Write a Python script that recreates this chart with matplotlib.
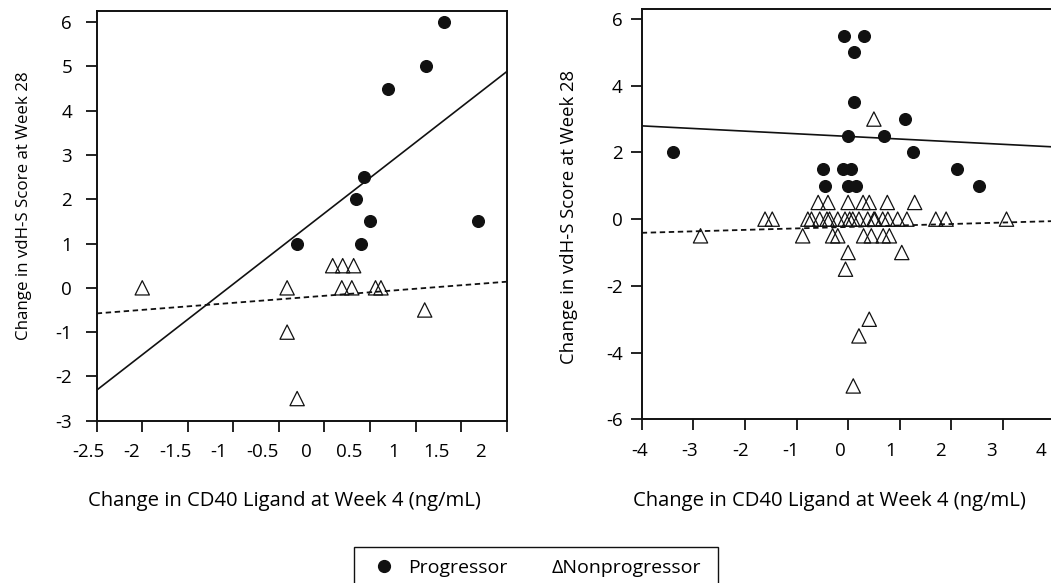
import matplotlib
matplotlib.use("Agg")
import matplotlib.pyplot as plt
import numpy as np
from matplotlib.lines import Line2D
from matplotlib.patches import Rectangle
from matplotlib.transforms import ScaledTranslation

plt.rcParams['font.family'] = ['Open Sans', 'DejaVu Sans']
plt.rcParams['font.size'] = 13.5
plt.rcParams['axes.unicode_minus'] = False

# left panel: week 4 change vs week 28 vdH-S change
left_prog_x = [1.31, 1.11, 0.70, 0.43, 0.35, 0.50, 0.40, -0.30, 1.69]
left_prog_y = [6, 5, 4.5, 2.5, 2, 1.5, 1, 1, 1.5]
left_non_x = [-2.0, -0.41, -0.41, -0.30, 0.09, 0.20, 0.32, 0.19, 0.30, 0.56, 0.62, 1.10]
left_non_y = [0, 0, -1, -2.5, 0.5, 0.5, 0.5, 0, 0, 0, 0, -0.5]
left_prog_fit = (1.685, 1.598)   # intercept, slope
left_non_fit = (-0.18, 0.159)

# right panel
right_prog_x = [-3.40, -0.08, 0.31, 0.11, 0.11, 0.0, 0.70, 1.10, 1.26,
                -0.49, -0.45, -0.10, 0.05, 0.0, 0.16, 2.12, 2.54]
right_prog_y = [2, 5.5, 5.5, 5, 3.5, 2.5, 2.5, 3, 2,
                1.5, 1, 1.5, 1.5, 1, 1, 1.5, 1]
right_non_x = [0.50,
               -0.58, -0.39, 0.0, 0.29, 0.41, 0.76, 1.29,
               -1.61, -1.47, -0.78, -0.71, -0.55, -0.41, -0.36, -0.20, -0.06, 0.03,
               0.09, 0.21, 0.38, 0.50, 0.52, 0.67, 0.77, 0.96, 1.14, 1.70, 1.90, 3.07,
               -2.86, -0.88, -0.30, -0.20, 0.30, 0.45, 0.68, 0.80,
               0.0, 1.04, -0.05, 0.41, 0.21, 0.10]
right_non_y = [3,
               0.5, 0.5, 0.5, 0.5, 0.5, 0.5, 0.5,
               0, 0, 0, 0, 0, 0, 0, 0, 0, 0,
               0, 0, 0, 0, 0, 0, 0, 0, 0, 0, 0, 0,
               -0.5, -0.5, -0.5, -0.5, -0.5, -0.5, -0.5, -0.5,
               -1, -1, -1.5, -3, -3.5, -5]
right_prog_fit = (2.48, -0.079)
right_non_fit = (-0.234, 0.044)

left_xticks = [-2.5, -2, -1.5, -1, -0.5, 0, 0.5, 1, 1.5, 2]
left_yticks = [-3, -2, -1, 0, 1, 2, 3, 4, 5, 6]
right_xticks = [-4, -3, -2, -1, 0, 1, 2, 3, 4]
right_yticks = [-6, -4, -2, 0, 2, 4, 6]

xlabel = 'Change in CD40 Ligand at Week 4 (ng/mL)'
ylabel = 'Change in vdH-S Score at Week 28'
legend_labels = ['Progressor', '\u0394Nonprogressor']

W, H = 1051, 583
fig = plt.figure(figsize=(W / 100, H / 100), dpi=100)
ax1 = fig.add_axes([96.7 / W, 1 - 420.7 / H, 410 / W, 409.7 / H])
ax2 = fig.add_axes([641.7 / W, 1 - 419.3 / H, 412.8 / W, 410 / H])


def draw_panel(ax, px, py, nx, ny, pfit, nfit, xlim, ylim):
    ax.scatter(px, py, s=8.4 ** 2, marker='o', color='#111111', zorder=3)
    ax.scatter(nx, ny, s=10.3 ** 2, marker='^', facecolors='none',
               edgecolors='#111111', linewidths=0.9, zorder=3)
    xs = np.array(xlim)
    ax.plot(xs, pfit[0] + pfit[1] * xs, color='#111111', lw=1.2, zorder=2)
    ax.plot(xs, nfit[0] + nfit[1] * xs, color='#111111', lw=1.3,
            ls=(0, (3.0, 2.0)), zorder=2)
    ax.set_xlim(xlim)
    ax.set_ylim(ylim)
    for s in ax.spines.values():
        s.set_linewidth(1.4)
        s.set_color('#111111')
    ax.tick_params(direction='out', length=7.7, width=1.3, color='#111111')


draw_panel(ax1, left_prog_x, left_prog_y, left_non_x, left_non_y,
           left_prog_fit, left_non_fit, (-2.5, 2.0), (-3, 6.25))
draw_panel(ax2, right_prog_x, right_prog_y, right_non_x, right_non_y,
           right_prog_fit, right_non_fit, (-4, 4), (-6, 6.29))
ax2.spines['right'].set_visible(False)

ax1.set_xticks(left_xticks)
ax1.set_xticklabels([f'{t:g}' for t in left_xticks])
ax1.set_yticks(left_yticks)
ax2.set_xticks(right_xticks)
ax2.set_yticks(right_yticks)
ax1.tick_params(axis='y', pad=10)
ax1.tick_params(axis='x', pad=8)
ax2.tick_params(axis='y', pad=6)
ax2.tick_params(axis='x', pad=9)

# the printed tick labels sit a little left of their ticks
for ax, a, b in [(ax1, -8.7, -1.95), (ax2, -2.0, -1.4)]:
    for i, lbl in enumerate(ax.get_xticklabels()):
        off = ScaledTranslation((a + b * i) / 100, 0, fig.dpi_scale_trans)
        lbl.set_transform(lbl.get_transform() + off)

ax1.set_xlabel(xlabel, fontsize=14.6)
ax2.set_xlabel(xlabel, fontsize=14.6)
ax1.set_ylabel(ylabel, fontsize=12.2)
ax2.set_ylabel(ylabel, fontsize=13.3)
ax1.xaxis.set_label_coords(0.459, -0.172)
ax2.xaxis.set_label_coords(0.454, -0.175)
ax1.yaxis.set_label_coords(-0.158, 0.524)
ax2.yaxis.set_label_coords(-0.154, 0.493)

# legend box at the bottom
fig.add_artist(Rectangle((354 / W, -0.05), 364 / W, 0.05 + 1 - 547 / H,
                         transform=fig.transFigure, facecolor='none',
                         edgecolor='#111111', lw=1.0))
fig.add_artist(Line2D([384 / W], [1 - 566 / H], transform=fig.transFigure,
                      marker='o', markersize=8.5, color='#111111', ls=''))
fig.text(408 / W, 1 - 573 / H, legend_labels[0], va='baseline', ha='left', fontsize=14)
fig.text(552 / W, 1 - 573 / H, legend_labels[1], va='baseline', ha='left', fontsize=14)

fig.savefig('out.png', dpi=100)
